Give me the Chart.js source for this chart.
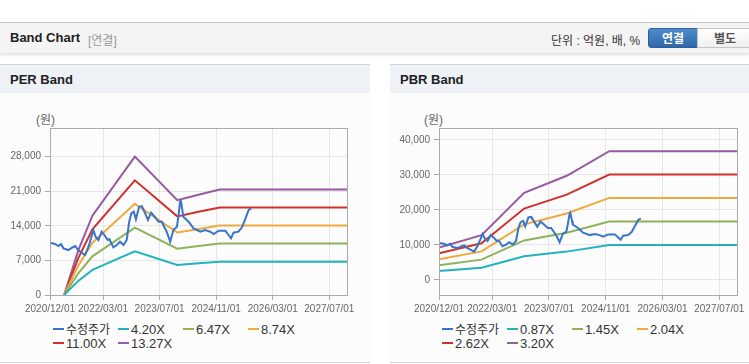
<!DOCTYPE html>
<html lang="ko">
<head>
<meta charset="utf-8">
<title>Band Chart</title>
<script src="https://cdn.jsdelivr.net/npm/chart.js@4.4.1/dist/chart.umd.min.js"></script>
<style>
  body {
    margin: 0;
    width: 749px;
    height: 364px;
    overflow: hidden;
    position: relative;
    background: #fff;
    font-family: 'Liberation Sans', 'Noto Sans CJK KR', sans-serif;
    color: #333;
  }
  .topbar {
    position: absolute; left: 0; top: 22px; width: 749px; height: 30px;
    background: #f4f4f4; border-top: 1px solid #c8c8c8;
    box-shadow: 0 2px 3px rgba(0, 0, 0, 0.13);
  }
  .topbar .title { position: absolute; left: 10px; top: 7px; font-size: 13px; font-weight: bold; color: #222; }
  .topbar .sub { position: absolute; left: 88px; top: 8px; font-size: 12px; color: #999; }
  .topbar .unit { position: absolute; left: 551px; top: 8px; font-size: 12px; color: #333; }
  .btn { position: absolute; top: 5px; height: 20px; line-height: 20px; text-align: center; font-size: 12px; font-weight: bold; box-sizing: border-box; }
  .btn.on { left: 648px; width: 50px; color: #fff; border-radius: 3px 0 0 3px; background: linear-gradient(#4d8bcb, #2e68ab); border: 1px solid #2c5f9c; }
  .btn.off { left: 697px; width: 56px; color: #555; background: linear-gradient(#fff, #f0f0f0); border: 1px solid #c4c4c4; }
  .panel {
    position: absolute; top: 64px; height: 297px;
    background: #fcfcfc; border-top: 1px solid #d4d4d4; border-bottom: 1px solid #d4d4d4;
  }
  .panel .head { height: 28px; line-height: 29px; background: #eef1f6; padding-left: 10px; font-size: 13px; font-weight: bold; color: #222; }
  .unitlbl { position: absolute; top: 110px; font-size: 12px; color: #666; }
  .chartbox { position: absolute; top: 100px; height: 220px; }
  .legend { position: absolute; top: 323px; display: grid; grid-template-columns: 65px 65px 65px 65px; font-size: 13px; line-height: 13px; color: #333; white-space: nowrap; }
  .legend .ko { font-size: 12px; }
  .legend span.mk { display: inline-block; width: 11px; height: 2px; vertical-align: middle; margin: 0 2px 3px 0; }
</style>
</head>
<body>

<div class="topbar">
  <div class="title">Band Chart</div>
  <div class="sub">[연결]</div>
  <div class="unit">단위 : 억원, 배, %</div>
  <div class="btn on">연결</div>
  <div class="btn off">별도</div>
</div>

<div class="panel" style="left:0; width:370px;"><div class="head">PER Band</div></div>
<div class="panel" style="left:390px; width:359px;"><div class="head">PBR Band</div></div>

<div class="unitlbl" style="left:36px;">(원)</div>
<div class="unitlbl" style="left:424px;">(원)</div>

<div class="chartbox" style="left:0; width:370px;"><canvas id="perChart"></canvas></div>
<div class="chartbox" style="left:390px; width:359px;"><canvas id="pbrChart"></canvas></div>

<div class="legend" id="perLegend" style="left:53px;"></div>
<div class="legend" id="pbrLegend" style="left:442px;"></div>

<script>
// ── 축 눈금 (x는 2020/12 기준 개월 수)
const xTickMonths = [0, 15, 31, 47, 63, 79];
const xTickLabels = ['2020/12/01', '2022/03/01', '2023/07/01', '2024/11/01', '2026/03/01', '2027/07/01'];
const perYTicks = [0, 7000, 14000, 21000, 28000];
const pbrYTicks = [0, 10000, 20000, 30000, 40000];

// ── 수정주가 (두 차트 공통)
const priceMonths = [0, 1.4, 2.4, 3.1, 3.8, 5.2, 5.9, 7.1, 8, 9, 9.9, 10.9, 11.6, 12.3, 12.9, 13.7,
  14.6, 15.4, 16.3, 16.8, 17.9, 18.9, 19.8, 20.8, 21.7, 22.4, 23, 23.7, 24.3, 25.2, 26, 26.9,
  27.7, 28.6, 29.6, 30.7, 31.6, 33, 34, 34.9, 35.9, 36.3, 36.8, 37, 37.5, 37.7, 39.2, 40.6,
  42.5, 43.9, 45.3, 46.3, 47.7, 49.6, 50.5, 51.2, 51.9, 53.3, 54.3, 55.2, 56.2, 56.9];
const priceValues = [10580, 10320, 9900, 10320, 9440, 9100, 9440, 9900, 9100, 8560, 8090, 9770, 11470, 13150, 11800, 11130,
  12810, 12140, 11130, 11300, 9640, 10110, 10790, 10110, 11130, 14830, 16520, 16860, 15310, 17860, 18000, 16520,
  15170, 16660, 15840, 14830, 14830, 12810, 10790, 13150, 13820, 15840, 18870, 19200, 16860, 15840, 14830, 13490,
  12810, 13150, 12810, 12340, 13010, 13010, 12140, 11470, 12610, 12810, 13690, 15310, 17200, 17540];

// ── PER 밴드
const perLabels = ['수정주가', '4.20X', '6.47X', '8.74X', '11.00X', '13.27X'];
const perBandMonths = [4, 8, 12, 24, 36, 42, 48, 84];
const per420 = [0, 2856, 5082, 8862, 6077, 6426, 6754, 6754];
const per647 = [0, 4400, 7829, 13652, 9362, 9899, 10404, 10404];
const per874 = [0, 5943, 10575, 18441, 12647, 13372, 14054, 14054];
const per1100 = [0, 7480, 13310, 23210, 15917, 16830, 17688, 17688];
const per1327 = [0, 9024, 16057, 28000, 19202, 20303, 21338, 21338];

// ── PBR 밴드
const pbrLabels = ['수정주가', '0.87X', '1.45X', '2.04X', '2.62X', '3.20X'];
const pbrBandMonths = [0, 12, 24, 36, 48, 84];
const pbr087 = [2523, 3480, 6769, 8091, 9996, 9996];
const pbr145 = [4205, 5800, 11281, 13485, 16661, 16661];
const pbr204 = [5916, 8160, 15871, 18972, 23440, 23440];
const pbr262 = [7598, 10480, 20384, 24366, 30104, 30104];
const pbr320 = [9280, 12800, 24896, 29760, 36768, 36768];

const seriesColors = ['#3874c8', '#22b2c0', '#8cb25a', '#f0a93c', '#d1312b', '#955aa0'];

// ──────────────────────────────────────────────
//  helpers
// ──────────────────────────────────────────────

function pares(xs, ys) {
  return xs.map((x, i) => ({ x, y: ys[i] }));
}

// 플롯 영역 테두리 (위/오른쪽 포함)
const boxPlugin = {
  id: 'plotBox',
  afterDatasetsDraw(chart) {
    const { ctx, chartArea: a } = chart;
    ctx.save();
    ctx.strokeStyle = '#aaaaaa';
    ctx.lineWidth = 1;
    ctx.strokeRect(Math.round(a.left) + 0.5, Math.round(a.top) + 0.5,
      Math.round(a.right - a.left), Math.round(a.bottom - a.top));
    ctx.restore();
  },
};

const tickFont = { family: "'Liberation Sans', sans-serif", size: 10 };

function crearChart(canvasId, labels, bandMonths, bands, yTicks, yMin, yMax, yWidth, padRight) {
  const datasets = [pares(priceMonths, priceValues)].concat(bands.map(b => pares(bandMonths, b)))
    .map((data, i) => ({
      label: labels[i],
      data,
      borderColor: seriesColors[i],
      backgroundColor: seriesColors[i],
      borderWidth: 2,
      pointRadius: 0,
      tension: 0,
      fill: false,
    }));

  return new Chart(document.getElementById(canvasId), {
    type: 'line',
    data: { datasets },
    options: {
      responsive: true,
      maintainAspectRatio: false,
      animation: false,
      events: [],
      layout: { padding: { top: 28, right: padRight, left: 0, bottom: 0 } },
      plugins: { legend: { display: false }, tooltip: { enabled: false } },
      scales: {
        x: {
          type: 'linear',
          min: 0,
          max: 84,
          afterBuildTicks: s => { s.ticks = xTickMonths.map(v => ({ value: v })); },
          afterFit: s => { s.height = 25; },
          ticks: {
            autoSkip: false,
            maxRotation: 0,
            padding: 3,
            color: '#666',
            font: tickFont,
            callback: v => xTickLabels[xTickMonths.indexOf(v)],
          },
          grid: { color: '#e6e6e6', tickColor: '#aaaaaa', tickLength: 5 },
          border: { color: '#aaaaaa' },
        },
        y: {
          min: yMin,
          max: yMax,
          afterBuildTicks: s => { s.ticks = yTicks.map(v => ({ value: v })); },
          afterFit: s => { s.width = yWidth; },
          ticks: {
            padding: 4,
            color: '#666',
            font: tickFont,
            callback: v => v.toLocaleString('en-US'),
          },
          grid: { color: '#e6e6e6', tickColor: '#aaaaaa', tickLength: 5 },
          border: { color: '#aaaaaa' },
        },
      },
    },
    plugins: [boxPlugin],
  });
}

function pintarLeyenda(chart, elId) {
  const el = document.getElementById(elId);
  el.innerHTML = chart.data.datasets.map(d => {
    const cls = /[가-힣]/.test(d.label) ? ' class="ko"' : '';
    return `<div><span class="mk" style="background:${d.borderColor}"></span><span${cls}>${d.label}</span></div>`;
  }).join('');
}

// ──────────────────────────────────────────────
//  arranque
// ──────────────────────────────────────────────

const perChart = crearChart('perChart', perLabels, perBandMonths,
  [per420, per647, per874, per1100, per1327], perYTicks, 0, 33800, 50, 23);
const pbrChart = crearChart('pbrChart', pbrLabels, pbrBandMonths,
  [pbr087, pbr145, pbr204, pbr262, pbr320], pbrYTicks, -4300, 43400, 49, 12);

pintarLeyenda(perChart, 'perLegend');
pintarLeyenda(pbrChart, 'pbrLegend');
</script>
</body>
</html>
